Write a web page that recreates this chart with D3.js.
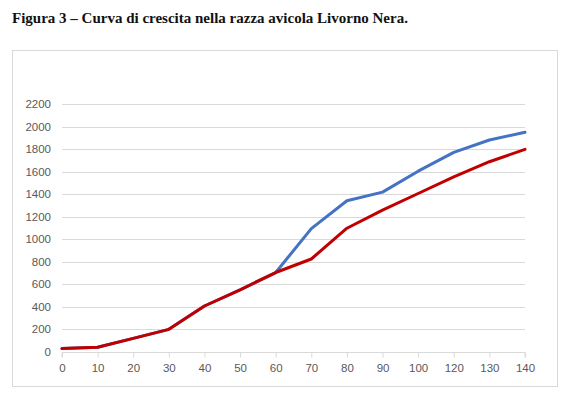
<!DOCTYPE html>
<html><head><meta charset="utf-8">
<script src="https://cdn.jsdelivr.net/npm/d3@7"></script>
<style>
body{margin:0;background:#fff;}
svg{display:block;}
</style></head>
<body>
<svg id="c" width="571" height="398"></svg>
<script>
const categories = ["0","10","20","30","40","50","60","70","80","90","100","120","130","140"];
const seriesBlue = [30,42,121,201,408,552,705,1094,1342,1418,1604,1771,1881,1949];
const seriesRed  = [30,42,121,201,408,552,705,825,1098,1258,1406,1553,1688,1798];
const yTicks = [0,200,400,600,800,1000,1200,1400,1600,1800,2000,2200];

const svg = d3.select("#c");
svg.append("text").attr("x",12).attr("y",23)
  .attr("font-family","Liberation Serif, serif").attr("font-weight","bold")
  .attr("font-size","15px").attr("fill","#111")
  .text("Figura 3 – Curva di crescita nella razza avicola Livorno Nera.");

svg.append("rect").attr("x",12.5).attr("y",50.5).attr("width",545).attr("height",336)
  .attr("fill","#fff").attr("stroke","#d9d9d9").attr("stroke-width",1);

const x = d3.scalePoint().domain(categories).range([62,525]);
const y = d3.scaleLinear().domain([0,2200]).range([352,104]);

const g = svg.append("g");
g.selectAll("line.grid").data(yTicks.filter(d=>d>0)).join("line")
  .attr("x1",62).attr("x2",525)
  .attr("y1",d=>Math.round(y(d))+0.5).attr("y2",d=>Math.round(y(d))+0.5)
  .attr("stroke","#d9d9d9").attr("stroke-width",1);

g.selectAll("text.yl").data(yTicks).join("text")
  .attr("x",51).attr("y",d=>y(d)+4)
  .attr("text-anchor","end")
  .attr("font-family","Liberation Sans, Arial, sans-serif").attr("font-size","11.5px")
  .attr("fill","#595959").text(d=>d);

const xAxis = d3.axisBottom(x).tickSize(5).tickPadding(6);
const ax = svg.append("g").attr("transform",`translate(0,${Math.round(y(0))+0.5})`).call(xAxis);
ax.select(".domain").attr("stroke","#d9d9d9").attr("d","M62,5V0H525V5");
ax.selectAll(".tick line").attr("stroke","#d9d9d9");
ax.selectAll(".tick text").attr("font-family","Liberation Sans, Arial, sans-serif")
  .attr("font-size","11.5px").attr("fill","#595959");

const line = d3.line().x((d,i)=>x(categories[i])).y(d=>y(d));
svg.append("path").datum(seriesBlue).attr("d",line).attr("fill","none")
  .attr("stroke","#4472C4").attr("stroke-width",3).attr("stroke-linejoin","round").attr("stroke-linecap","round");
svg.append("path").datum(seriesRed).attr("d",line).attr("fill","none")
  .attr("stroke","#C00000").attr("stroke-width",3).attr("stroke-linejoin","round").attr("stroke-linecap","round");
</script>
</body></html>
